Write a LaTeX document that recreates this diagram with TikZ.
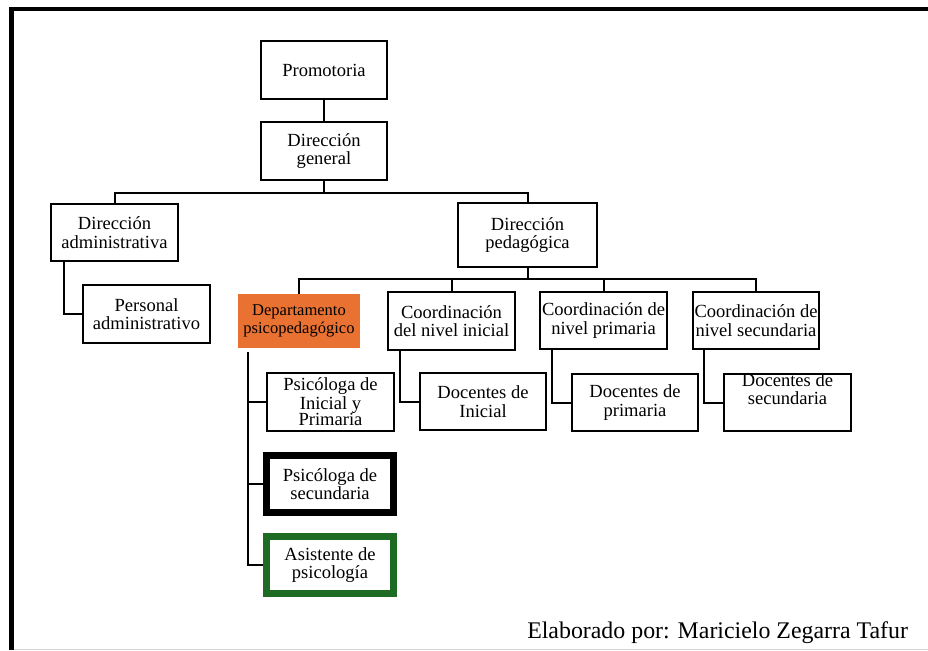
\documentclass[tikz,border=0pt]{standalone}
\usepackage{fontspec}
\setmainfont{Liberation Serif}
\definecolor{deptorange}{HTML}{E97132}
\definecolor{asisgreen}{HTML}{1E6B24}
\definecolor{edgegray}{HTML}{D4D4D4}
\begin{document}
\begin{tikzpicture}[x=0.75pt,y=-0.75pt,
  box/.style={draw, line width=1.5pt, inner sep=0pt, align=center,
    font=\fontsize{13.9}{14}\selectfont},
  thickbox/.style={box, line width=5.25pt},
  deptbox/.style={fill=deptorange, inner sep=0pt, align=center,
    font=\fontsize{12.4}{13}\selectfont},
  conn/.style={line width=1.5pt},
  frameline/.style={line width=#1}]
\useasboundingbox (0,0) rectangle (928,650);
% frame
\draw[frameline=3pt] (9,9) -- (928,9);
\draw[frameline=3.75pt] (11.5,7) -- (11.5,650);
\draw[edgegray, line width=0.75pt] (14,649) -- (928,649);

% nodes
\node[box, minimum width=94.5pt, minimum height=43.5pt] (prom) at (324,70) {Promotoria};
\node[box, minimum width=94.5pt, minimum height=43.5pt] (dgen) at (324,151) {Dirección\\general};
\node[box, minimum width=95.25pt, minimum height=42.75pt] (dadm) at (114.5,232.5) {Dirección\\administrativa};
\node[box, minimum width=95.25pt, minimum height=43.5pt] (padm) at (146.5,314) {Personal\\administrativo};
\node[box, minimum width=104.25pt, minimum height=48pt] (dped) at (527.5,235) {Dirección\\pedagógica};
\node[deptbox, minimum width=91.5pt, minimum height=40.5pt] (dpsi) at (299,321) {Departamento\\psicopedagógico};
\node[box, minimum width=95.25pt, minimum height=43.5pt] (cini) at (451.5,321) {Coordinación\\del nivel inicial};
\node[box, minimum width=95.25pt, minimum height=42.75pt] (cpri) at (603.5,320.5) {Coordinación de\\nivel primaria};
\node[box, minimum width=94.5pt, minimum height=42.75pt] (csec) at (756,320.5) {Coordinación de\\nivel secundaria};
\node[box, minimum width=94.5pt, minimum height=42.75pt] (dini) at (483,401.5) {Docentes de\\Inicial};
\node[box, minimum width=94.5pt, minimum height=42.75pt] (dpri) at (635,402.5) {Docentes de\\primaria};
\node[box, minimum width=95.25pt, minimum height=42.75pt] (dsec) at (787.5,402.5)
  {\raisebox{8pt}[17.5pt][10.5pt]{\begin{tabular}{@{}c@{}}Docentes de\\secundaria\end{tabular}}};
\node[box, minimum width=95.25pt, minimum height=43.5pt,
  font=\fontsize{13.9}{12.6}\selectfont] (psip) at (330.5,402) {Psicóloga de\\Inicial y\\Primaria};
\node[thickbox, minimum width=95.25pt, minimum height=42.75pt] (psec) at (330,484) {Psicóloga de\\secundaria};
\node[thickbox, draw=asisgreen, minimum width=95.25pt, minimum height=42.75pt] (asis) at (330,565) {Asistente de\\psicología};

\node[anchor=base west, inner sep=0pt, font=\fontsize{17.9}{18}\selectfont] (credit) at (527,638)
  {Elaborado por: Maricielo Zegarra Tafur};

% connectors
\draw[conn] (prom.south) -- (dgen.north);
\draw[conn] (dgen.south) -- ++(0,12) -| (dadm.north);
\draw[conn] (dgen.south) ++(0,12) -| (dped.north);
\draw[conn] (dadm.south west) ++(14,0) |- (padm.west);
\draw[conn] (dped.south) -- ++(0,11) -| (dpsi.north);
\draw[conn] (dped.south) ++(0,11) -| (cini.north);
\draw[conn] (dped.south) ++(0,11) -| (cpri.north);
\draw[conn] (dped.south) ++(0,11) -| (csec.north);
\draw[conn] (cini.south west) ++(13,0) |- (dini.west);
\draw[conn] (cpri.south west) ++(13,0) |- (dpri.west);
\draw[conn] (csec.south west) ++(12,0) |- (dsec.west);
\draw[conn] (dpsi.south west) ++(10,4) |- (psip.west);
\draw[conn] (dpsi.south west) ++(10,4) |- (psec.west);
\draw[conn] (dpsi.south west) ++(10,4) |- (asis.west);
\end{tikzpicture}
\end{document}
